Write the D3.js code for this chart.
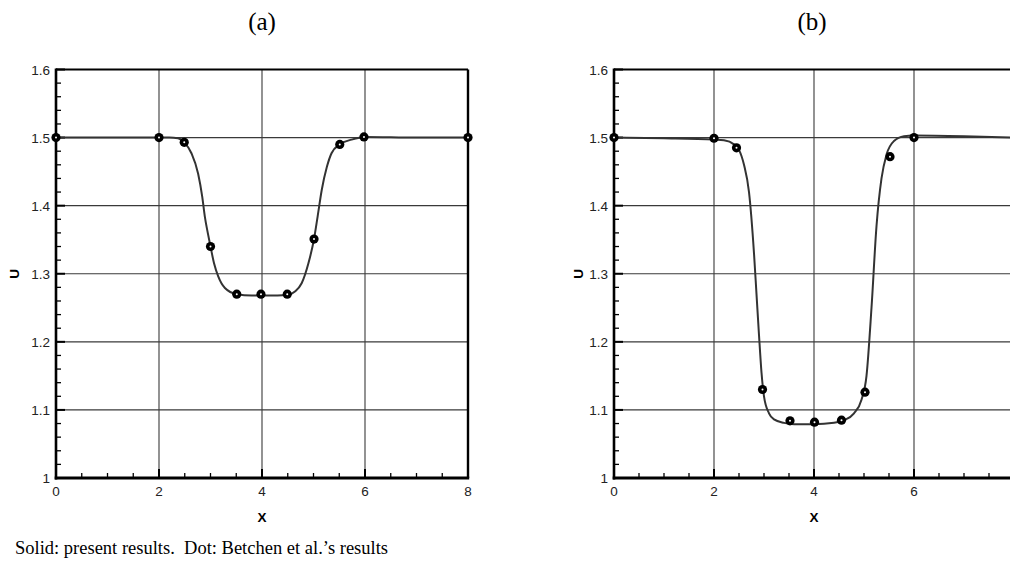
<!DOCTYPE html>
<html>
<head>
<meta charset="utf-8">
<script src="https://cdn.jsdelivr.net/npm/d3@7"></script>
<style>
  html, body { margin: 0; padding: 0; background: #fff; }
  svg { display: block; }
</style>
</head>
<body>
<svg id="chart" width="1010" height="565"></svg>
<script>
// ---- data -------------------------------------------------------------
const panelTitles = ["(a)", "(b)"];
const xTickValues = [0, 2, 4, 6, 8];
const yTickValues = [1, 1.1, 1.2, 1.3, 1.4, 1.5, 1.6];
const yTickLabels = ["1", "1.1", "1.2", "1.3", "1.4", "1.5", "1.6"];

// panel (a): present results (solid line)
const solidAX = [0, 1, 2, 2.2, 2.37, 2.49, 2.63, 2.76, 2.84, 2.89, 2.95, 3.0, 3.07, 3.15, 3.28, 3.51, 3.8, 4.0, 4.3, 4.5, 4.64, 4.77, 4.9, 5.01, 5.08, 5.16, 5.26, 5.35, 5.51, 5.74, 6.0, 7, 8];
const solidAU = [1.5, 1.5, 1.5, 1.5, 1.499, 1.493, 1.477, 1.447, 1.413, 1.384, 1.359, 1.34, 1.315, 1.296, 1.279, 1.27, 1.268, 1.268, 1.268, 1.269, 1.274, 1.286, 1.315, 1.351, 1.384, 1.423, 1.457, 1.477, 1.49, 1.497, 1.501, 1.5, 1.5];
// panel (a): Betchen et al. (dots)
const dotAX = [0, 2, 2.49, 3.0, 3.51, 3.98, 4.49, 5.01, 5.51, 5.98, 8];
const dotAU = [1.5, 1.5, 1.493, 1.34, 1.27, 1.27, 1.27, 1.351, 1.49, 1.501, 1.5];

// panel (b): present results (solid line)
const solidBX = [0, 1, 2, 2.2, 2.4, 2.5, 2.6, 2.7, 2.8, 2.85, 2.9, 2.95, 3.0, 3.1, 3.2, 3.4, 3.6, 4.0, 4.4, 4.6, 4.8, 4.95, 5.05, 5.15, 5.25, 5.35, 5.45, 5.6, 5.8, 6.0, 7, 8];
const solidBU = [1.5, 1.499, 1.497, 1.496, 1.49, 1.482, 1.46, 1.42, 1.33, 1.27, 1.21, 1.155, 1.12, 1.095, 1.086, 1.081, 1.079, 1.079, 1.081, 1.085, 1.095, 1.115, 1.15, 1.25, 1.37, 1.44, 1.475, 1.495, 1.502, 1.503, 1.502, 1.5];
// panel (b): Betchen et al. (dots)
const dotBX = [0, 2, 2.45, 2.97, 3.52, 4.01, 4.55, 5.02, 5.52, 6.0];
const dotBU = [1.5, 1.499, 1.485, 1.13, 1.084, 1.082, 1.085, 1.126, 1.472, 1.5];

// ---- layout -----------------------------------------------------------
const svg = d3.select("#chart");
const plotTop = 69.5, plotBottom = 478;

const panels = [
  { title: panelTitles[0], left: 56, right: 468, titleX: 262, solidX: solidAX, solidU: solidAU, dotX: dotAX, dotU: dotAU, uX: 14, clipId: "clipA" },
  { title: panelTitles[1], left: 614, right: 1014, titleX: 812, solidX: solidBX, solidU: solidBU, dotX: dotBX, dotU: dotBU, uX: 578, clipId: "clipB" }
];

const defs = svg.append("defs");

panels.forEach(p => {
  const x = d3.scaleLinear().domain([0, 8]).range([p.left, p.right]);
  const y = d3.scaleLinear().domain([1, 1.6]).range([plotBottom, plotTop]);
  const g = svg.append("g");

  defs.append("clipPath").attr("id", p.clipId)
    .append("rect").attr("x", p.left).attr("y", plotTop)
    .attr("width", p.right - p.left).attr("height", plotBottom - plotTop);

  // grid lines at major ticks
  const grid = g.append("g").attr("clip-path", `url(#${p.clipId})`);
  grid.selectAll("line.gx").data(xTickValues.slice(1, -1)).join("line")
    .attr("x1", d => x(d)).attr("x2", d => x(d))
    .attr("y1", plotTop).attr("y2", plotBottom)
    .attr("stroke", "#3a3a3a").attr("stroke-width", 1.1);
  grid.selectAll("line.gy").data(yTickValues.slice(1, -1)).join("line")
    .attr("x1", p.left).attr("x2", p.right)
    .attr("y1", d => y(d)).attr("y2", d => y(d))
    .attr("stroke", "#3a3a3a").attr("stroke-width", 1.1);

  // inward ticks: major and minor
  const xMinor = d3.range(0, 8.001, 0.5).filter(v => Math.abs(v / 2 - Math.round(v / 2)) > 1e-6);
  const yMinor = d3.range(1, 1.6001, 0.02).filter(v => Math.abs(v * 10 - Math.round(v * 10)) > 1e-6);
  const ticks = g.append("g").attr("stroke", "#000");
  ticks.selectAll("line.xmaj").data(xTickValues).join("line")
    .attr("x1", d => x(d)).attr("x2", d => x(d))
    .attr("y1", plotBottom).attr("y2", plotBottom - 9).attr("stroke-width", 2);
  ticks.selectAll("line.xmin").data(xMinor).join("line")
    .attr("x1", d => x(d)).attr("x2", d => x(d))
    .attr("y1", plotBottom).attr("y2", plotBottom - 5).attr("stroke-width", 1.3);
  ticks.selectAll("line.ymaj").data(yTickValues).join("line")
    .attr("x1", p.left).attr("x2", p.left + 9)
    .attr("y1", d => y(d)).attr("y2", d => y(d)).attr("stroke-width", 2);
  ticks.selectAll("line.ymin").data(yMinor).join("line")
    .attr("x1", p.left).attr("x2", p.left + 5)
    .attr("y1", d => y(d)).attr("y2", d => y(d)).attr("stroke-width", 1.3);

  // frame
  g.append("line").attr("x1", p.left).attr("x2", p.right).attr("y1", plotTop).attr("y2", plotTop)
    .attr("stroke", "#000").attr("stroke-width", 2);
  g.append("line").attr("x1", p.right).attr("x2", p.right).attr("y1", plotTop).attr("y2", plotBottom)
    .attr("stroke", "#000").attr("stroke-width", 2.4);
  g.append("line").attr("x1", p.left).attr("x2", p.left).attr("y1", plotTop - 1).attr("y2", plotBottom + 1.5)
    .attr("stroke", "#000").attr("stroke-width", 2.6);
  g.append("line").attr("x1", p.left - 1.3).attr("x2", p.right + 1.2).attr("y1", plotBottom).attr("y2", plotBottom)
    .attr("stroke", "#000").attr("stroke-width", 3);

  // tick labels
  g.selectAll("text.xl").data(xTickValues.filter(v => x(v) < 1005)).join("text")
    .attr("x", d => x(d)).attr("y", plotBottom + 18)
    .attr("text-anchor", "middle")
    .attr("font-family", "Liberation Sans, Arial, sans-serif").attr("font-size", 13.5).attr("fill", "#222")
    .text(d => d3.format("d")(d));
  g.selectAll("text.yl").data(yTickValues).join("text")
    .attr("x", p.left - 6).attr("y", d => y(d) + 5)
    .attr("text-anchor", "end")
    .attr("font-family", "Liberation Sans, Arial, sans-serif").attr("font-size", 13.5).attr("fill", "#222")
    .text((d, i) => yTickLabels[i]);

  // axis titles
  g.append("text").attr("x", x(4)).attr("y", plotBottom + 44)
    .attr("text-anchor", "middle").attr("font-weight", "bold")
    .attr("font-family", "Liberation Sans, Arial, sans-serif").attr("font-size", 13.5)
    .text("X");
  g.append("text").attr("transform", `translate(${p.uX},${y(1.3)}) rotate(-90)`)
    .attr("text-anchor", "middle").attr("dy", "0.35em").attr("font-weight", "bold")
    .attr("font-family", "Liberation Sans, Arial, sans-serif").attr("font-size", 13.5)
    .text("U");

  // panel title
  svg.append("text").attr("x", p.titleX).attr("y", 30)
    .attr("text-anchor", "middle")
    .attr("font-family", "Liberation Serif, Times New Roman, serif").attr("font-size", 25)
    .text(p.title);

  // solid line: present results
  const pts = p.solidX.map((v, i) => [v, p.solidU[i]]);
  const line = d3.line().x(d => x(d[0])).y(d => y(d[1])).curve(d3.curveMonotoneX);
  g.append("path").datum(pts).attr("d", line)
    .attr("clip-path", `url(#${p.clipId})`)
    .attr("fill", "none").attr("stroke", "#333").attr("stroke-width", 2);

  // dots: Betchen et al.
  const dots = p.dotX.map((v, i) => [v, p.dotU[i]]);
  const dg = g.append("g");
  dg.selectAll("circle.o").data(dots).join("circle")
    .attr("cx", d => x(d[0])).attr("cy", d => y(d[1])).attr("r", 4.6).attr("fill", "#000");
  dg.selectAll("circle.i").data(dots).join("circle")
    .attr("cx", d => x(d[0])).attr("cy", d => y(d[1])).attr("r", 1).attr("fill", "#fff");
});

// caption
svg.append("text").attr("x", 15).attr("y", 554)
  .attr("font-family", "Liberation Serif, Times New Roman, serif").attr("font-size", 18.5)
  .attr("xml:space", "preserve")
  .text("Solid: present results.  Dot: Betchen et al.\u2019s results");
</script>
</body>
</html>
